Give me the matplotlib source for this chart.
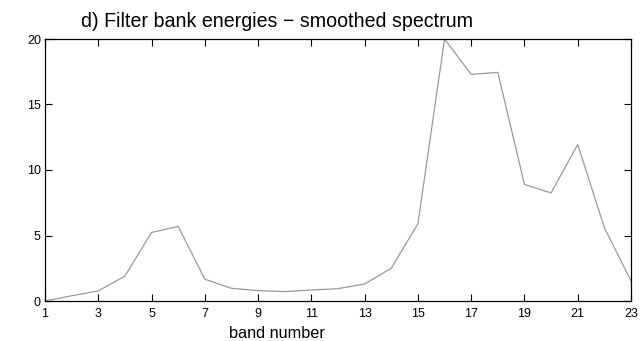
import numpy as np
import matplotlib.pyplot as plt

plt.rcParams['font.family'] = ['Liberation Sans', 'DejaVu Sans']

# Filter bank output per band
bands = np.arange(1, 24)
energies = [0.0, 0.4, 0.77, 1.9, 5.23, 5.7, 1.66, 0.97, 0.79, 0.72, 0.84, 0.94,
            1.3, 2.5, 5.9, 20.0, 17.3, 17.45, 8.9, 8.25, 11.95, 5.6, 1.53]
xticks = np.arange(1, 24, 2)
yticks = [0, 5, 10, 15, 20]

fig = plt.figure(figsize=(6.4, 3.41), dpi=100)
ax = fig.add_axes([45/640, 40/341, 586/640, 262/341])
ax.plot(bands, energies, color='#9a9a9a', linewidth=0.9)

ax.set_xlim(1, 23)
ax.set_ylim(0, 20)
ax.set_xticks(xticks)
ax.set_yticks(yticks)
ax.tick_params(direction='in', top=True, right=True, length=5, width=0.8,
               labelsize=9, pad=3)
ax.tick_params(axis='x', pad=5)
for s in ax.spines.values():
    s.set_linewidth(0.9)

# title and x label sit left of the axes centre
fig.text(277/640, 1 - 27/341, 'd) Filter bank energies \u2212 smoothed spectrum',
         ha='center', va='baseline', fontsize=14.1)
fig.text(277/640, 1 - 338/341, 'band number', ha='center', va='baseline',
         fontsize=11.7)

fig.savefig('out.png', dpi=100)
